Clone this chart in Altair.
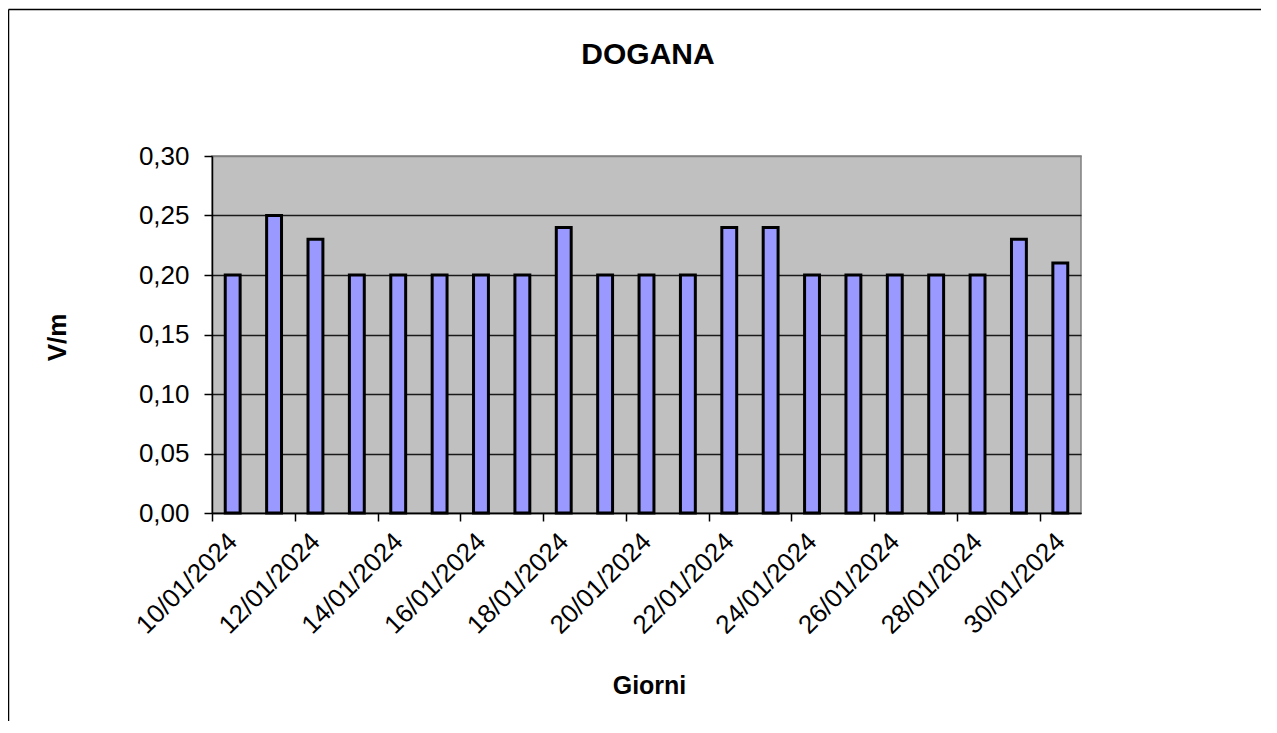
import altair as alt
import pandas as pd

dates = ["10/01/2024", "11/01/2024", "12/01/2024", "13/01/2024", "14/01/2024",
         "15/01/2024", "16/01/2024", "17/01/2024", "18/01/2024", "19/01/2024",
         "20/01/2024", "21/01/2024", "22/01/2024", "23/01/2024", "24/01/2024",
         "25/01/2024", "26/01/2024", "27/01/2024", "28/01/2024", "29/01/2024",
         "30/01/2024"]
values = [0.20, 0.25, 0.23, 0.20, 0.20, 0.20, 0.20, 0.20, 0.24, 0.20,
          0.20, 0.20, 0.24, 0.24, 0.20, 0.20, 0.20, 0.20, 0.20, 0.23, 0.21]
y_ticks = [0.0, 0.05, 0.10, 0.15, 0.20, 0.25, 0.30]
x_label_dates = dates[::2]

df = pd.DataFrame({"Giorno": dates, "Vm": values})

FONT = "Liberation Sans"
W, H = 869, 357
PAD_L, PAD_T, PAD_R, PAD_B = 204, 148, 180, 208
HALF_STEP = W / len(dates) / 2

bars = alt.Chart(df).mark_bar(
    fill="#9999FF", stroke="#000000", strokeWidth=3, strokeOpacity=1
).encode(
    x=alt.X(
        "Giorno:N", sort=None,
        scale=alt.Scale(paddingInner=0.64, paddingOuter=0.32),
        axis=alt.Axis(
            values=x_label_dates, title="Giorni",
            tickOffset=-HALF_STEP, labelOffset=HALF_STEP,
            labelAngle=-45, labelAlign="right",
            labelBaseline="middle", labelPadding=16, labelOverlap=False,
            labelFont=FONT, labelFontSize=26, labelColor="#000000",
            tickSize=8, tickColor="#000000", tickWidth=1.5,
            domainColor="#000000", domainWidth=1.5,
            titleFont=FONT, titleFontSize=25, titleFontWeight="bold", titleColor="#000000",
            titleX=437, titleY=180, titleBaseline="alphabetic", titleAlign="center",
            grid=False,
        ),
    ),
    y=alt.Y(
        "Vm:Q",
        scale=alt.Scale(domain=[0, 0.3], nice=False),
        axis=alt.Axis(
            values=y_ticks, title="V/m",
            labelExpr="replace(format(datum.value, '.2f'), '.', ',')",
            labelFont=FONT, labelFontSize=26, labelColor="#000000", labelPadding=15,
            tickSize=8, tickColor="#000000", tickWidth=1.5,
            domainColor="#000000", domainWidth=1.5,
            grid=True, gridWidth=1.3,
            gridColor={"condition": {"test": "datum.value >= 0.3", "value": "#808080"}, "value": "#1a1a1a"},
            titleFont=FONT, titleFontSize=26, titleFontWeight="bold", titleColor="#000000",
            titleAngle=270, titleX=-147, titleY=181, titleBaseline="alphabetic", titleAlign="center",
        ),
    ),
)

frame_src = alt.Data(values=[{"t": "DOGANA"}])
frame_left = alt.Chart(frame_src).mark_rule(color="#000000", strokeWidth=1.5).encode(
    x=alt.value(-203.5), y=alt.value(-146.5), y2=alt.value(H + PAD_B)
)
frame_top = alt.Chart(frame_src).mark_rule(color="#000000", strokeWidth=1.5).encode(
    x=alt.value(-203.5), x2=alt.value(W + PAD_R), y=alt.value(-146.5)
)
title_text = alt.Chart(frame_src).mark_text(
    font=FONT, fontSize=30, fontWeight="bold", color="#000000",
    align="center", baseline="alphabetic"
).encode(
    x=alt.value(436), y=alt.value(-92), text="t:N"
)

chart = alt.layer(bars, frame_left, frame_top, title_text).properties(
    width=W, height=H,
    background="#FFFFFF",
    autosize=alt.AutoSizeParams(type="none"),
    padding={"left": PAD_L, "top": PAD_T, "right": PAD_R, "bottom": PAD_B},
).configure_view(
    fill="#C0C0C0", stroke="#808080", strokeWidth=1.5
)

chart.save("out.html", embed_options={"renderer": "svg", "actions": False})
